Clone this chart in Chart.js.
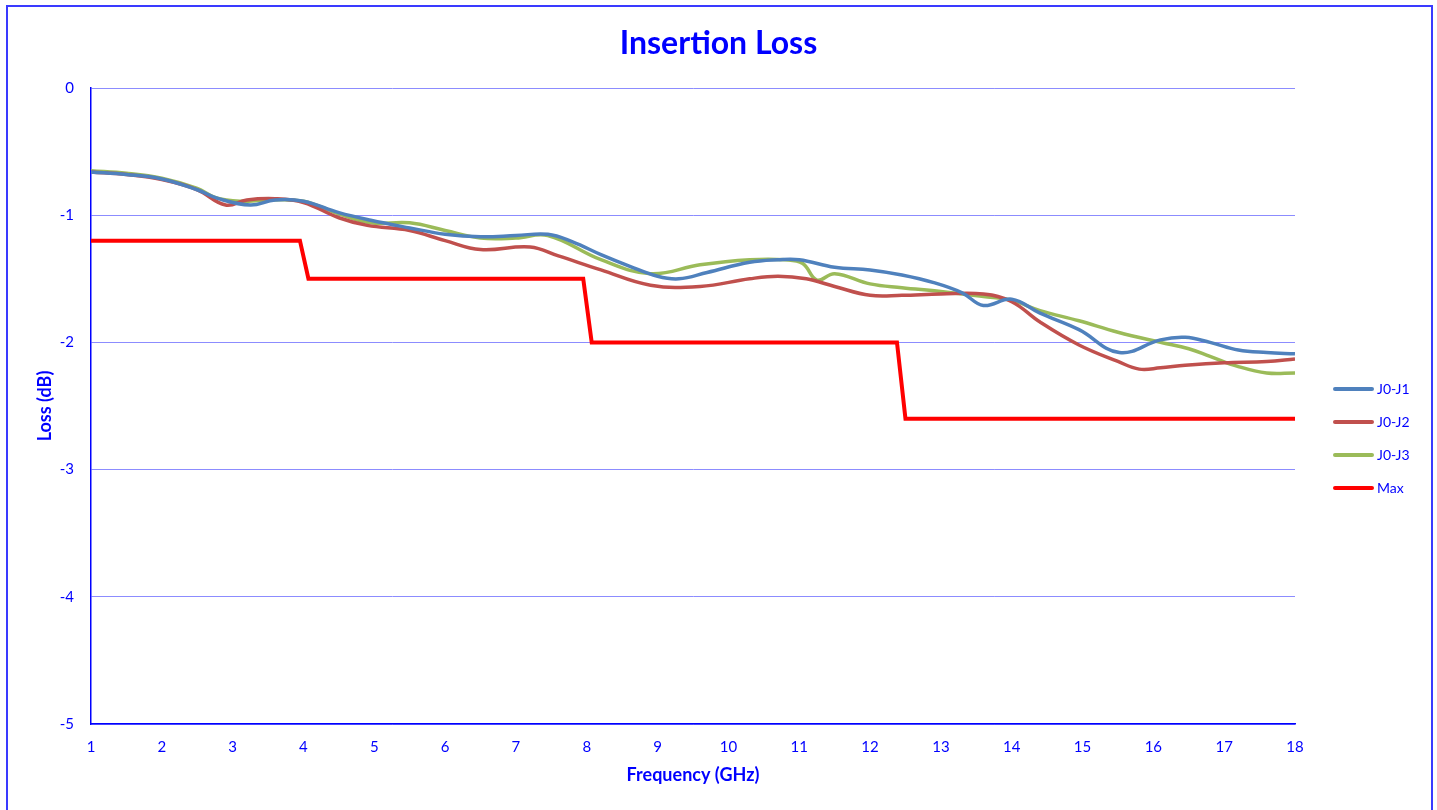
<!DOCTYPE html>
<html>
<head>
<meta charset="utf-8">
<title>Insertion Loss</title>
<script src="https://cdn.jsdelivr.net/npm/chart.js@4.4.1/dist/chart.umd.min.js"></script>
<style>
  html, body { margin: 0; padding: 0; background: #fff; }
  #wrap { position: relative; width: 1437px; height: 810px; }
</style>
</head>
<body>
<div id="wrap"><canvas id="myChart" width="1437" height="810"></canvas></div>
<script>
// data
var freqJ1 = [1, 1.5, 2, 2.5, 2.8, 3.25, 3.6, 4, 4.5, 4.95, 5.5, 6, 6.5, 7, 7.45, 7.8, 8.2, 8.6, 9, 9.3, 9.7, 10.3, 10.7, 11, 11.5, 12, 12.45, 12.9, 13.3, 13.6, 14, 14.4, 14.95, 15.52, 16.1, 16.45, 16.8, 17.2, 17.6, 18];
var lossJ1 = [-0.66, -0.68, -0.715, -0.80, -0.87, -0.92, -0.88, -0.89, -0.98, -1.04, -1.10, -1.15, -1.17, -1.16, -1.15, -1.21, -1.31, -1.40, -1.48, -1.50, -1.45, -1.37, -1.35, -1.35, -1.41, -1.43, -1.47, -1.53, -1.61, -1.71, -1.66, -1.77, -1.90, -2.08, -1.98, -1.96, -2.00, -2.06, -2.08, -2.09];

var freqJ2 = [1, 1.5, 2, 2.5, 2.9, 3.2, 3.6, 4, 4.5, 4.9, 5.5, 6, 6.5, 7.2, 7.6, 8.2, 8.9, 9.6, 10.3, 10.7, 11.1, 11.5, 12, 12.45, 13, 13.6, 14, 14.4, 14.95, 15.5, 15.8, 16.1, 16.45, 17, 17.6, 18];
var lossJ2 = [-0.66, -0.68, -0.72, -0.80, -0.92, -0.88, -0.87, -0.90, -1.02, -1.08, -1.12, -1.20, -1.27, -1.25, -1.32, -1.43, -1.55, -1.56, -1.50, -1.48, -1.50, -1.56, -1.63, -1.63, -1.62, -1.62, -1.68, -1.84, -2.02, -2.15, -2.21, -2.20, -2.18, -2.16, -2.15, -2.13];

var freqJ3 = [1, 1.5, 2, 2.5, 2.75, 3.1, 3.5, 4, 4.5, 4.95, 5.5, 6, 6.5, 7, 7.45, 8.2, 8.9, 9.6, 10.3, 10.8, 11.05, 11.25, 11.5, 12, 12.45, 13, 13.6, 14, 14.4, 14.95, 15.5, 16.1, 16.5, 16.8, 17.2, 17.6, 18];
var lossJ3 = [-0.65, -0.67, -0.71, -0.79, -0.86, -0.89, -0.88, -0.89, -0.99, -1.06, -1.06, -1.12, -1.18, -1.18, -1.16, -1.35, -1.46, -1.39, -1.35, -1.35, -1.38, -1.51, -1.46, -1.54, -1.57, -1.60, -1.64, -1.67, -1.75, -1.83, -1.92, -2.00, -2.05, -2.11, -2.19, -2.24, -2.24];

var freqMax = [1, 3.95, 4.07, 7.95, 8.07, 12.38, 12.5, 18];
var lossMax = [-1.2, -1.2, -1.5, -1.5, -2.0, -2.0, -2.6, -2.6];

var seriesNames = ['J0-J1', 'J0-J2', 'J0-J3', 'Max'];
var seriesColors = ['#4f81bd', '#c0504d', '#9bbb59', '#ff0000'];

var xTickValues = [1, 2, 3, 4, 5, 6, 7, 8, 9, 10, 11, 12, 13, 14, 15, 16, 17, 18];
var yTickValues = [0, -1, -2, -3, -4, -5];

var FONT = 'Lato, "Open Sans", sans-serif';
var BLUE = '#0000ff';

function toPoints(xs, ys) {
  return xs.map(function(x, i) { return { x: x, y: ys[i] }; });
}

// outer frame round the whole chart
var framePlugin = {
  id: 'frame',
  beforeDraw: function(chart) {
    var ctx = chart.ctx;
    ctx.save();
    ctx.fillStyle = '#ffffff';
    ctx.fillRect(0, 0, chart.width, chart.height);
    ctx.strokeStyle = '#3a3aff';
    ctx.lineWidth = 2;
    ctx.strokeRect(7, 6, 1425, 900);
    ctx.restore();
  }
};

// legend on the right, drawn from the datasets
var sideLegend = {
  id: 'sideLegend',
  afterDraw: function(chart) {
    var ctx = chart.ctx;
    ctx.save();
    ctx.font = '14px ' + FONT;
    ctx.textBaseline = 'middle';
    ctx.textAlign = 'left';
    chart.data.datasets.forEach(function(ds, i) {
      var y = 389 + i * 33;
      ctx.strokeStyle = ds.borderColor;
      ctx.lineWidth = 4;
      ctx.lineCap = 'round';
      ctx.beginPath();
      ctx.moveTo(1335, y);
      ctx.lineTo(1372, y);
      ctx.stroke();
      ctx.fillStyle = BLUE;
      ctx.fillText(ds.label, 1377, y);
    });
    ctx.restore();
  }
};

var allFreq = [freqJ1, freqJ2, freqJ3, freqMax];
var allLoss = [lossJ1, lossJ2, lossJ3, lossMax];

var ctx = document.getElementById('myChart');
var chart = new Chart(ctx, {
  type: 'line',
  data: {
    datasets: seriesNames.map(function(name, i) {
      return {
        label: name,
        data: toPoints(allFreq[i], allLoss[i]),
        borderColor: seriesColors[i],
        backgroundColor: seriesColors[i],
        borderWidth: name === 'Max' ? 4 : 3.5,
        pointRadius: 0,
        tension: name === 'Max' ? 0 : 0.4,
        fill: false
      };
    })
  },
  options: {
    responsive: false,
    animation: false,
    devicePixelRatio: 1,
    layout: { padding: 0 },
    plugins: {
      legend: { display: false },
      tooltip: { enabled: false },
      title: {
        display: true,
        text: 'Insertion Loss',
        color: BLUE,
        font: { family: FONT, size: 32, weight: 'bold' },
        padding: { top: 24, bottom: 25.6 }
      }
    },
    scales: {
      x: {
        type: 'linear',
        min: 1,
        max: 18,
        afterBuildTicks: function(scale) {
          scale.ticks = xTickValues.map(function(v) { return { value: v }; });
        },
        afterFit: function(scale) { scale.height = 86; },
        grid: { display: false, drawTicks: false },
        border: { display: true, color: BLUE, width: 1.5 },
        ticks: { color: BLUE, font: { family: FONT, size: 15 }, padding: 14, maxRotation: 0 },
        title: {
          display: true,
          text: 'Frequency (GHz)',
          color: BLUE,
          font: { family: FONT, size: 18, weight: 'bold' },
          padding: { top: 0, bottom: 24 }
        }
      },
      y: {
        min: -5,
        max: 0,
        afterBuildTicks: function(scale) {
          scale.ticks = yTickValues.map(function(v) { return { value: v }; });
        },
        afterFit: function(scale) { scale.width = 91; },
        grid: { color: '#8c8cff', lineWidth: 1, drawTicks: false },
        border: { display: true, color: BLUE, width: 1.5 },
        ticks: { color: BLUE, font: { family: FONT, size: 15 }, padding: 17 },
        title: {
          display: true,
          text: 'Loss (dB)',
          color: BLUE,
          font: { family: FONT, size: 18, weight: 'bold' },
          padding: { top: 34, bottom: 0 }
        }
      },
      // empty axis that keeps room for the legend on the right
      legendSpace: {
        type: 'linear',
        position: 'right',
        display: true,
        afterFit: function(scale) { scale.width = 142; },
        grid: { display: false, drawTicks: false },
        border: { display: false },
        ticks: { display: false }
      }
    }
  },
  plugins: [framePlugin, sideLegend]
});
</script>
</body>
</html>
